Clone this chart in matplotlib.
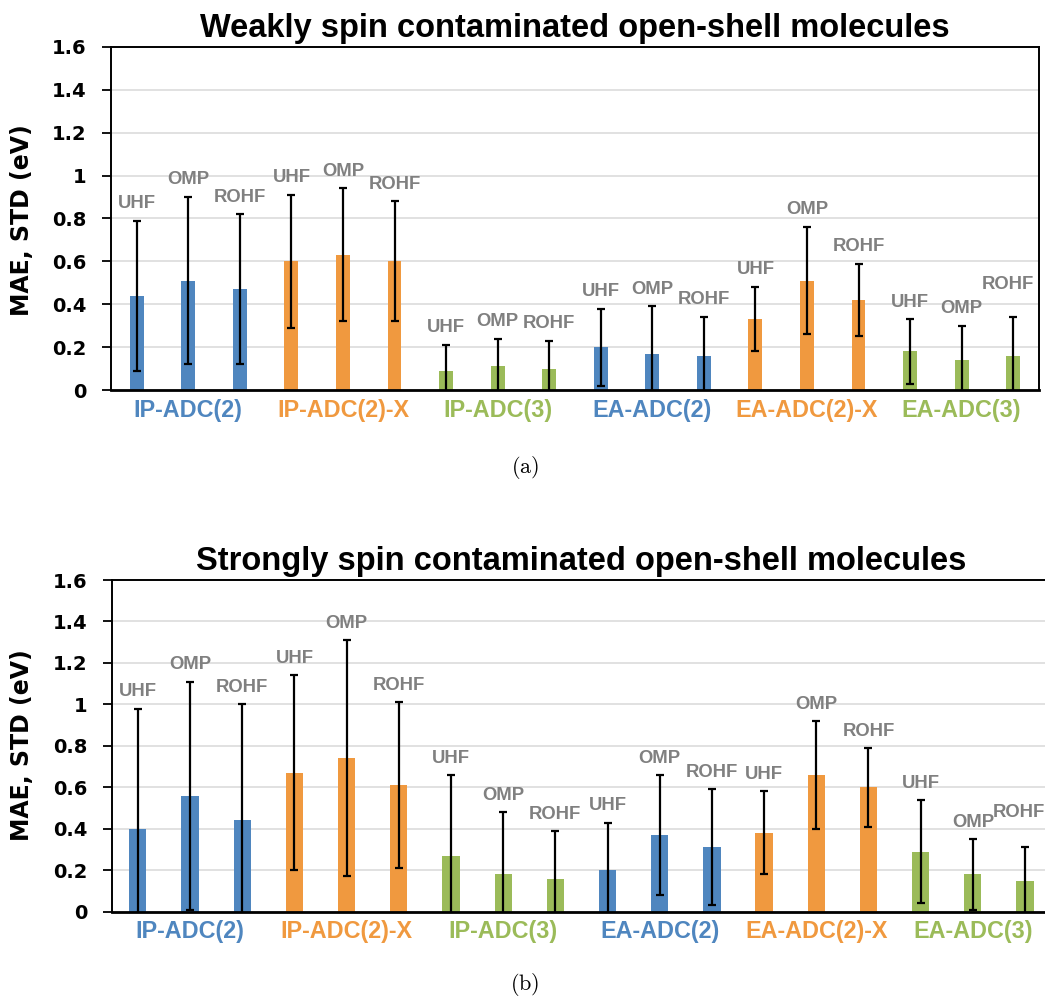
import matplotlib
matplotlib.use("Agg")
import matplotlib.pyplot as plt
import numpy as np

plt.rcParams['mathtext.fontset'] = 'cm'

# methods (groups) and reference determinants
groups = ['IP-ADC(2)', 'IP-ADC(2)-X', 'IP-ADC(3)', 'EA-ADC(2)', 'EA-ADC(2)-X', 'EA-ADC(3)']
refs = ['UHF', 'OMP', 'ROHF']

# (a) weakly spin contaminated
mae_a = [0.44, 0.51, 0.47, 0.60, 0.63, 0.60, 0.09, 0.11, 0.10,
         0.20, 0.17, 0.16, 0.33, 0.51, 0.42, 0.18, 0.14, 0.16]
std_a = [0.35, 0.39, 0.35, 0.31, 0.31, 0.28, 0.12, 0.13, 0.13,
         0.18, 0.22, 0.18, 0.15, 0.25, 0.17, 0.15, 0.16, 0.18]

# (b) strongly spin contaminated
mae_b = [0.40, 0.56, 0.44, 0.67, 0.74, 0.61, 0.27, 0.18, 0.16,
         0.20, 0.37, 0.31, 0.38, 0.66, 0.60, 0.29, 0.18, 0.15]
std_b = [0.58, 0.55, 0.56, 0.47, 0.57, 0.40, 0.39, 0.30, 0.23,
         0.23, 0.29, 0.28, 0.20, 0.26, 0.19, 0.25, 0.17, 0.16]

blue, orange, green = '#4F86BF', '#F0993F', '#9BBB59'
group_colors = [blue, orange, green, blue, orange, green]
label_gray = '#808080'

fig = plt.figure(figsize=(10.45, 10), dpi=100)


def panel(rect, title, mae, std, width, nudge, right_spine=True):
    ax = fig.add_axes(rect)
    n = len(mae)
    x = np.arange(n) + 0.5
    cols = [group_colors[i // 3] for i in range(n)]
    ax.bar(x, mae, width=width, color=cols, zorder=2)
    ax.errorbar(x, mae, yerr=std, fmt='none', ecolor='black', elinewidth=1.6,
                capsize=2.6, capthick=1.6, zorder=3)
    for i in range(n):
        dx, dy = nudge.get(i, (0, 0))
        y = mae[i] + std[i] + 0.08 + dy
        ax.text(x[i] + dx, y, refs[i % 3], ha='center', va='center', fontsize=13.3,
                fontweight='bold', color=label_gray, family='Liberation Sans')
    for g, name in enumerate(groups):
        ax.text(3 * g + 1.5, -0.06, name, transform=ax.get_xaxis_transform(),
                ha='center', va='center', fontsize=16.8, fontweight='bold',
                color=group_colors[g], family='Liberation Sans')
    ax.set_xlim(0, n)
    ax.set_ylim(0, 1.6)
    ax.set_yticks(np.arange(0, 1.61, 0.2))
    ax.set_yticklabels([f'{v:g}' for v in np.arange(0, 1.61, 0.2).round(1)],
                       fontsize=14, fontweight='bold', family='DejaVu Sans')
    ax.set_xticks([])
    ax.tick_params(axis='y', direction='out', length=6.5, width=1.3, pad=11)
    ax.yaxis.grid(True, color='#D9D9D9', linewidth=1.1, zorder=0)
    ax.set_axisbelow(True)
    for s in ['left', 'top', 'right']:
        ax.spines[s].set_linewidth(1.4)
    ax.spines['bottom'].set_linewidth(2)
    ax.spines['right'].set_visible(right_spine)
    ax.set_title(title, fontsize=23.5, fontweight='bold', family='Liberation Sans', pad=7)
    return ax


ax1 = panel([0.1062, 0.610, 0.888, 0.343],
            'Weakly spin contaminated open-shell molecules',
            mae_a, std_a, 0.27, {17: (-0.11, 0.07)})
ax2 = panel([0.1069, 0.0883, 0.899, 0.3317],
            'Strongly spin contaminated open-shell molecules',
            mae_b, std_b, 0.33, {17: (-0.12, 0.09)}, right_spine=False)

for yc in [1 - 220 / 1000, 1 - 745 / 1000]:
    fig.text(22.5 / 1045, yc, 'MAE, STD (eV)', rotation=90, ha='center', va='center',
             fontsize=17, fontweight='bold', family='DejaVu Sans')

fig.text(525 / 1045, 1 - 467 / 1000, r'$\mathrm{(a)}$', ha='center', va='center', fontsize=16)
fig.text(525 / 1045, 1 - 985 / 1000, r'$\mathrm{(b)}$', ha='center', va='center', fontsize=16)

fig.savefig('out.png', dpi=100)
